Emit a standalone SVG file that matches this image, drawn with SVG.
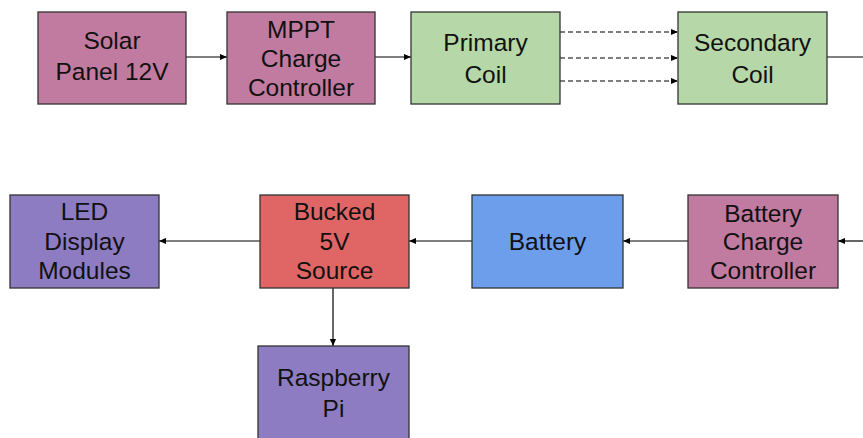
<svg xmlns="http://www.w3.org/2000/svg" width="863" height="438" viewBox="0 0 863 438">
<style>
.box{stroke:#333;stroke-width:1.3}
.pink{fill:#c27ba0}.green{fill:#b6d7a8}.red{fill:#e06666}.blue{fill:#6d9eeb}.purple{fill:#8e7cc3}
text{font-family:"Liberation Sans",Arial,sans-serif;font-size:24.5px;fill:#111;text-anchor:middle}
.c{stroke:#000;stroke-width:1.2;fill:none}
.d{stroke-dasharray:5,3}
</style>
<defs>
<marker id="ah" viewBox="0 0 8 8" refX="8" refY="4" markerWidth="7" markerHeight="7" markerUnits="userSpaceOnUse" orient="auto">
<path d="M0,0.5 L8,4 L0,7.5 Z" fill="#000"/>
</marker>
</defs>
<rect width="863" height="438" fill="#fff"/>
<g id="connectors">
<line class="c" x1="186" y1="57" x2="227" y2="57" marker-end="url(#ah)"/>
<line class="c" x1="375" y1="57" x2="411" y2="57" marker-end="url(#ah)"/>
<line class="c d" x1="560" y1="32" x2="678" y2="32" marker-end="url(#ah)"/>
<line class="c d" x1="560" y1="58" x2="678" y2="58" marker-end="url(#ah)"/>
<line class="c d" x1="560" y1="81" x2="678" y2="81" marker-end="url(#ah)"/>
<line class="c" x1="827" y1="57" x2="863" y2="57"/>
<line class="c" x1="863" y1="241" x2="838" y2="241" marker-end="url(#ah)"/>
<line class="c" x1="688" y1="241" x2="623" y2="241" marker-end="url(#ah)"/>
<line class="c" x1="472" y1="241" x2="409" y2="241" marker-end="url(#ah)"/>
<line class="c" x1="260" y1="241" x2="159" y2="241" marker-end="url(#ah)"/>
<line class="c" x1="333" y1="288" x2="333" y2="346" marker-end="url(#ah)"/>
</g>
<g id="solar"><rect class="box pink" x="38" y="12" width="148" height="92"/><text x="112" y="48.5">Solar</text><text x="112" y="79.5">Panel 12V</text></g>
<g id="mppt"><rect class="box pink" x="227" y="12" width="148" height="92"/><text x="301" y="38">MPPT</text><text x="301" y="67">Charge</text><text x="301" y="95.5">Controller</text></g>
<g id="primary"><rect class="box green" x="411" y="12" width="149" height="92"/><text x="485.5" y="51">Primary</text><text x="485.5" y="82.5">Coil</text></g>
<g id="secondary"><rect class="box green" x="678" y="12" width="149" height="92"/><text x="752.5" y="51">Secondary</text><text x="752.5" y="82.5">Coil</text></g>
<g id="bcc"><rect class="box pink" x="688" y="195" width="150" height="93"/><text x="763" y="221.5">Battery</text><text x="763" y="250">Charge</text><text x="763" y="278.5">Controller</text></g>
<g id="battery"><rect class="box blue" x="472" y="195" width="151" height="93"/><text x="547.5" y="250">Battery</text></g>
<g id="bucked"><rect class="box red" x="260" y="195" width="149" height="93"/><text x="334.5" y="220">Bucked</text><text x="334.5" y="250">5V</text><text x="334.5" y="278.5">Source</text></g>
<g id="led"><rect class="box purple" x="10" y="195" width="149" height="93"/><text x="84.5" y="220">LED</text><text x="84.5" y="250">Display</text><text x="84.5" y="278.5">Modules</text></g>
<g id="rpi"><rect class="box purple" x="258" y="346" width="151" height="100"/><text x="333.5" y="385.5">Raspberry</text><text x="333.5" y="417">Pi</text></g>
</svg>
